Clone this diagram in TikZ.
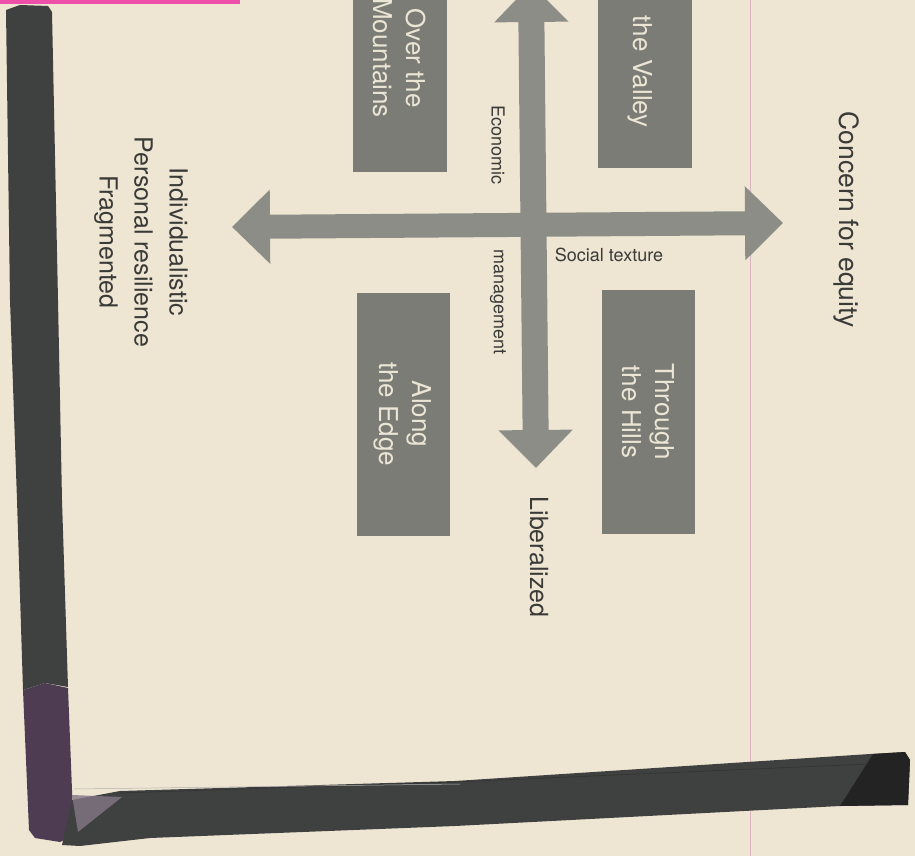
\documentclass[tikz,border=0pt]{standalone}
\usepackage{fontspec}
\setmainfont{TeX Gyre Heros}
\usepackage{tikz}
\usetikzlibrary{arrows.meta}
\definecolor{paper}{HTML}{EEE6D2}
\definecolor{boxgray}{HTML}{7A7C75}
\definecolor{axisgray}{HTML}{8B8D86}
\definecolor{tape}{HTML}{3F4141}
\definecolor{tapeend}{HTML}{232323}
\definecolor{tapepurple}{HTML}{4E3D52}
\definecolor{inkgray}{HTML}{3A3A38}
\definecolor{boxtext}{HTML}{EBE5D5}
\definecolor{strip}{HTML}{EE4FA8}
\definecolor{rule}{HTML}{D9B3C0}

\begin{document}
\begin{tikzpicture}
			[x=1pt, y=-1pt,
			scenario/.style={fill=boxgray, rotate=-90, inner sep=0pt, text=boxtext, align=center,
				font=\fontsize{26}{33}\selectfont},
			scentext/.style={rotate=-90, inner sep=0pt, text=boxtext, font=\fontsize{26}{33}\selectfont},
			pole/.style={rotate=-90, inner sep=0pt, text=inkgray, align=center,
				font=\fontsize{25}{35}\selectfont},
			axislabel/.style={inner sep=0pt, text=inkgray, font=\fontsize{18}{22}\selectfont},
			axis/.style={draw=axisgray, line width=24pt,
				{Triangle[width=72pt,length=38pt]}-{Triangle[width=72pt,length=38pt]}}]
			\useasboundingbox (0,0) rectangle (915,856);
			\clip (0,0) rectangle (915,856);
			\fill[paper] (0,0) rectangle (915,856);
			\fill[strip] (0,0) rectangle (240,4);
			\draw[rule, line width=0.7pt] (750,0) -- (750,856);
			
			% the two axes
			\coordinate (west)  at (232,227);
			\coordinate (east)  at (783,223);
			\coordinate (north) at (531,-16);
			\coordinate (south) at (536,468);
			\draw[axis] (west) -- (east);
			\draw[axis, line width=26pt] (north) -- (south);
			
			% scenarios
			\node (mountains) [scenario, minimum width=228pt, minimum height=94pt] at (400,58) {Over the\\Mountains};
			\node (valley)    [scenario, minimum width=228pt, minimum height=94pt] at (645,54) {};
			\node (valleytxt) [scentext, anchor=east] at (640,128) {the Valley};
			\node (edge)      [scenario, minimum width=243pt, minimum height=93pt] at (403,414) {Along\\the Edge};
			\node (hills)     [scenario, minimum width=244pt, minimum height=93pt] at (648,412) {Through\\the Hills};
			
			% axis labels
			\node (economic) [axislabel, rotate=-90] at (498,145) {Economic};
			\node (mgmt)     [axislabel, rotate=-90] at (498,302) {management};
			\node (social)   [axislabel] at (609,255) {Social texture};
			\node (equity)   [pole, font=\fontsize{26.5}{35}\selectfont] at (846,220) {Concern for equity};
			\node (liberal)  [pole] at (539,557) {Liberalized};
			\node (indiv)    [pole] at (141,242) {Individualistic\\Personal resilience\\Fragmented};
			
			% tape round the page
			\fill[tape] (6,10) -- (20,5) -- (48,6) -- (52,12) -- (58,300) -- (62,500) -- (68,687)
				-- (45,683) -- (23,690) -- (17,500) -- (10,300) -- cycle;
			\fill[tapepurple] (23,690) -- (45,683) -- (68,688) -- (72,790) -- (74,835) -- (60,842)
				-- (35,838) -- (29,830) -- cycle;
			\fill[tape] (72,800) -- (120,791) -- (455,781) -- (870,754) -- (905,752) -- (910,760)
				-- (908,805) -- (840,806) -- (455,826) -- (150,838) -- (80,846) -- (62,845) -- cycle;
			\fill[tapeend] (873,754) -- (905,752) -- (910,760) -- (908,805) -- (840,806) -- cycle;
			\fill[tapepurple!70!white, opacity=0.8] (72,795) -- (122,797) -- (78,832) -- cycle;
			\draw[black!80, line width=0.6pt] (120,793) -- (455,782) -- (868,764);
			\draw[black!30, line width=0.5pt] (74,789) -- (460,784);
		\end{tikzpicture}
\end{document}
